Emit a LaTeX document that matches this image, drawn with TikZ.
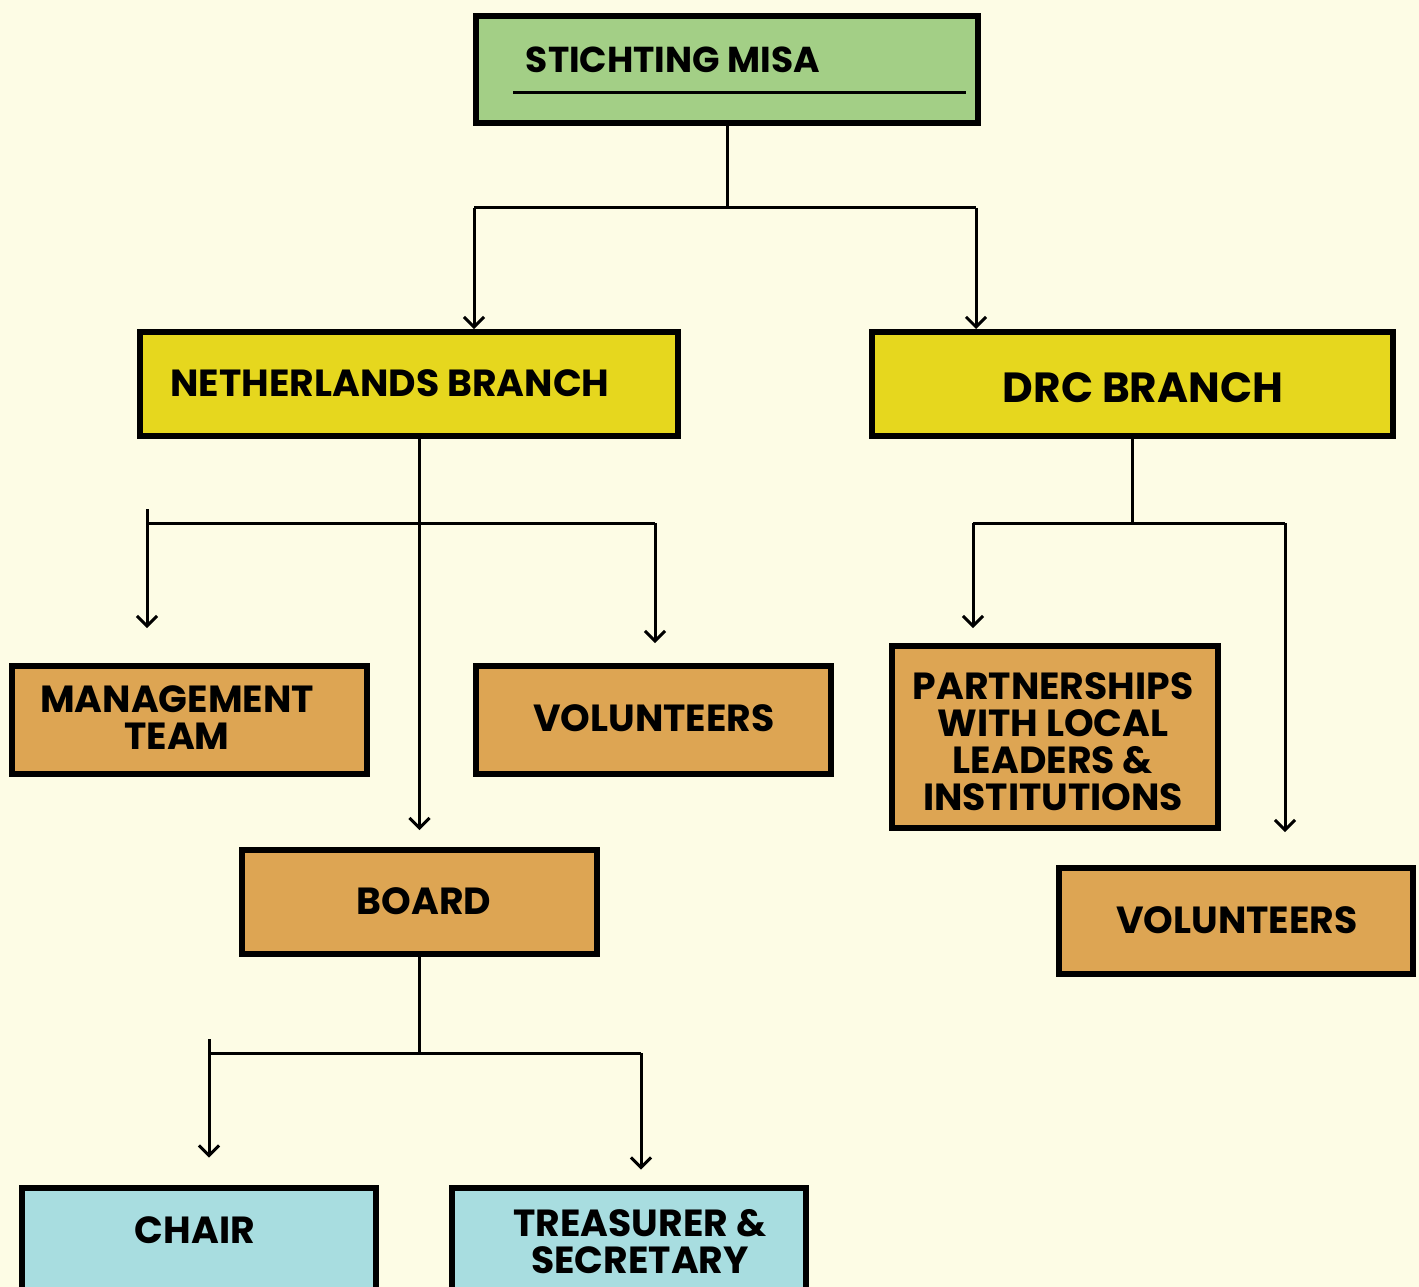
\documentclass[tikz,border=0pt]{standalone}
\usepackage{fontspec}
\setmainfont{Poppins}
\usetikzlibrary{arrows.meta}
\usetikzlibrary{positioning}
\definecolor{cream}{HTML}{FDFCE5}
\definecolor{misagreen}{HTML}{A3CF86}
\definecolor{branchyellow}{HTML}{E6D71E}
\definecolor{unitorange}{HTML}{DDA553}
\definecolor{rolecyan}{HTML}{A8DDE0}

\begin{document}
\begin{tikzpicture}[x=0.02cm, y=-0.02cm, >={Straight Barb[length=0.2cm,width=0.4cm]},
    box/.style={draw=black, line width=0.12cm, inner sep=0pt},
    lbl/.style={font=\bfseries\fontsize{21.5}{21}\selectfont, align=center, inner sep=0pt},
    link/.style={line width=0.06cm}]
      \useasboundingbox (0,0) rectangle (1419,1287);
      \clip (0,0) rectangle (1419,1287);
      \fill[cream] (0,0) rectangle (1419,1287);

      % boxes
      \node[box, fill=misagreen, minimum width=10.04cm, minimum height=2.14cm] (misa) at (727,69.5) {};
      \node[box, fill=branchyellow, minimum width=10.76cm, minimum height=2.08cm] (nl) at (409,384) {};
      \node[box, fill=branchyellow, minimum width=10.42cm, minimum height=2.08cm] (drc) at (1132.5,384) {};
      \node[box, fill=unitorange, minimum width=7.10cm, minimum height=2.16cm] (mgmt) at (189.5,720) {};
      \node[box, fill=unitorange, minimum width=7.10cm, minimum height=2.16cm] (volnl) at (653.5,720) {};
      \node[box, fill=unitorange, minimum width=7.10cm, minimum height=2.08cm] (board) at (419.5,902) {};
      \node[box, fill=unitorange, minimum width=6.52cm, minimum height=3.64cm] (part) at (1055,737) {};
      \node[box, fill=unitorange, minimum width=7.08cm, minimum height=2.12cm] (voldrc) at (1236,921) {};
      \node[box, fill=rolecyan, minimum width=7.08cm, minimum height=3.90cm] (chair) at (199,1285) {};
      \node[box, fill=rolecyan, minimum width=7.08cm, minimum height=3.90cm] (treas) at (629,1285) {};

      % texts
      \node[lbl, font=\bfseries\fontsize{20.5}{21}\selectfont] (misa-txt) at (673,60) {STICHTING MISA};
      \draw[link] (513,93) -- (966,93);
      \node[lbl] (nl-txt) at (390,383) {NETHERLANDS BRANCH};
      \node[lbl, font=\bfseries\fontsize{24}{26}\selectfont] (drc-txt) at (1143,388) {DRC BRANCH};
      \node[lbl] (mgmt-txt) at (177,718) {MANAGEMENT\\TEAM};
      \node[lbl] (volnl-txt) at (654,718) {VOLUNTEERS};
      \node[lbl] (board-txt) at (424,901) {BOARD};
      \node[lbl] (part-txt) at (1053,742) {PARTNERSHIPS\\WITH LOCAL\\LEADERS \&\\INSTITUTIONS};
      \node[lbl] (voldrc-txt) at (1237,920) {VOLUNTEERS};
      \node[lbl] (chair-txt) at (195,1230) {CHAIR};
      \node[lbl] (treas-txt) at (640,1242) {TREASURER \&\\SECRETARY};

      % junctions
      \coordinate (top-l) at (474,208);
      \coordinate (top-r) at (976,208);
      \coordinate (nl-l) at (147,523);
      \coordinate (nl-r) at (655,523);
      \coordinate (drc-l) at (973,523);
      \coordinate (drc-r) at (1285,523);
      \coordinate (bd-l) at (209,1053);
      \coordinate (bd-r) at (641,1053);

      % connectors
      \draw[link] (misa.south) -- (misa.south |- top-l);
      \draw[link] (top-l) -- (top-r);
      \draw[link, ->] (top-l) -- (top-l |- nl.north);
      \draw[link, ->] (top-r) -- (top-r |- drc.north);

      \draw[link, ->] (nl.south -| board.north) -- ([yshift=0.34cm]board.north);
      \draw[link] (nl-l) -- (nl-r);
      \draw[link, ->] ([yshift=0.28cm]nl-l) -- ([yshift=0.7cm]nl-l |- mgmt.north);
      \draw[link, ->] (nl-r) -- ([yshift=0.4cm]nl-r |- volnl.north);

      \draw[link] (drc.south) -- (drc.south |- drc-l);
      \draw[link] (drc-l) -- (drc-r);
      \draw[link, ->] (drc-l) -- ([yshift=0.3cm]drc-l |- part.north);
      \draw[link, ->] (drc-r) -- ([yshift=0.66cm]drc-r |- voldrc.north);

      \draw[link] (board.south) -- (board.south |- bd-l);
      \draw[link] (bd-l) -- (bd-r);
      \draw[link, ->] ([yshift=0.28cm]bd-l) -- ([yshift=0.54cm]bd-l |- chair.north);
      \draw[link, ->] (bd-r) -- ([yshift=0.3cm]bd-r |- treas.north);
\end{tikzpicture}
\end{document}
